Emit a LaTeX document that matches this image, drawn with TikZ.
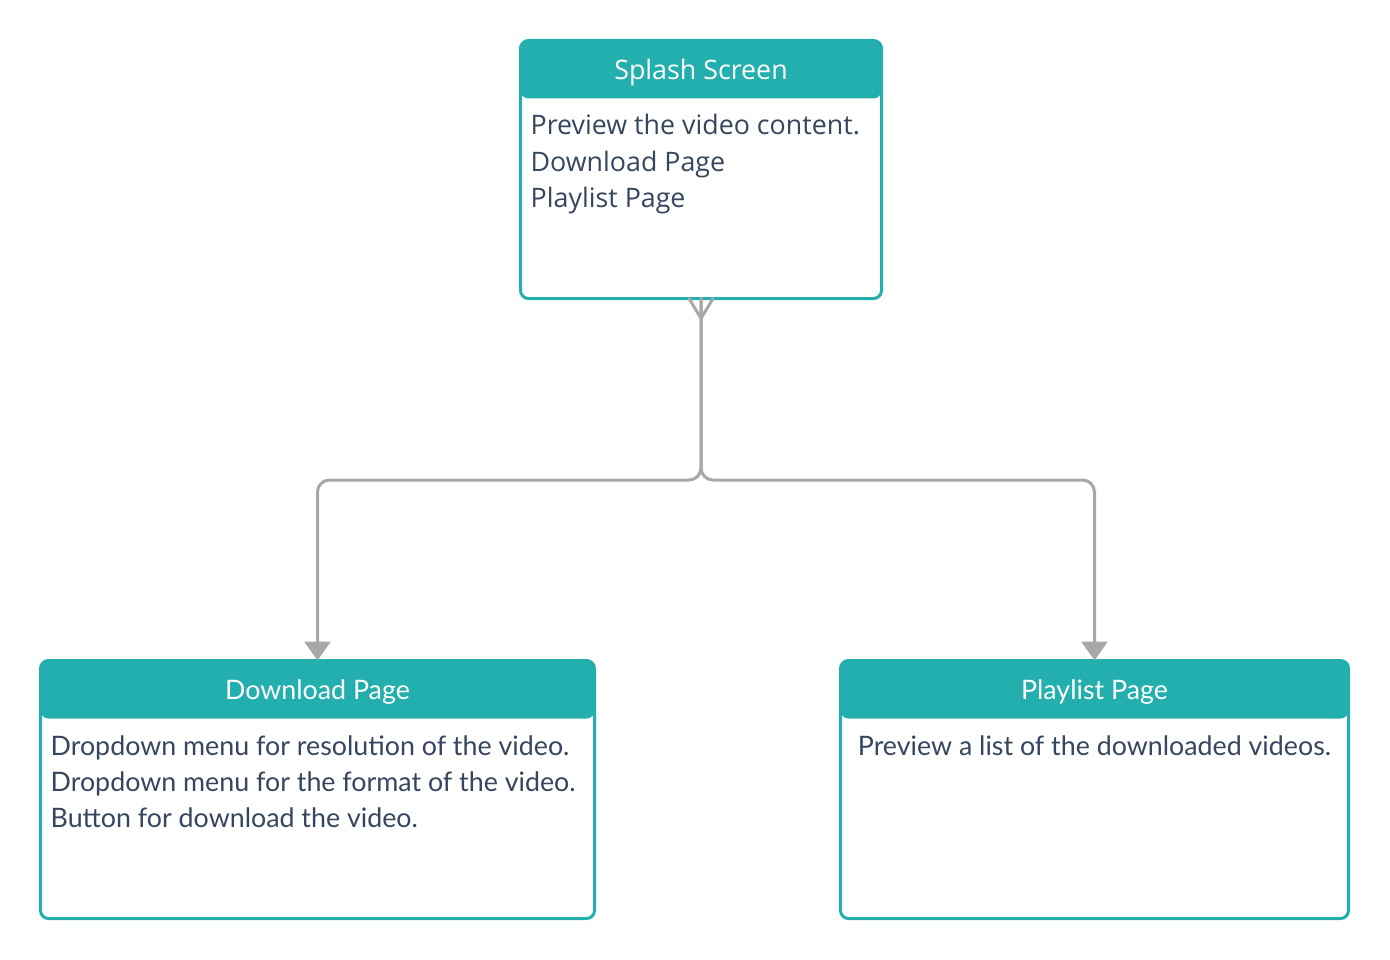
\documentclass[tikz,border=0pt]{standalone}
\usepackage{fontspec}
\newfontfamily\lato{Lato}
\newfontfamily\osans{Open Sans}
\usetikzlibrary{arrows.meta}
\definecolor{teal1}{HTML}{23AFAE}
\definecolor{ink}{HTML}{36465F}
\definecolor{wire}{HTML}{A8A8A8}
\newcommand{\fsz}{\fontsize{26.8}{30}\selectfont}
\begin{document}
\begin{tikzpicture}[x=1pt,y=-1pt,
  card/.style={draw=teal1, line width=3pt, rounded corners=8pt, fill=white,
    inner sep=0pt, outer sep=0pt, minimum height=258pt,
    path picture={\fill[teal1] (path picture bounding box.north west) rectangle ([yshift=-58pt]path picture bounding box.north east);}},
  title/.style={anchor=base, text=white, inner sep=0pt},
  body/.style={anchor=base west, text=ink, inner sep=0pt},
  wireline/.style={draw=wire, line width=3pt, line cap=round, line join=round},
  tip/.style={-{Triangle[width=26pt,length=19pt]}}
]
\useasboundingbox (0,0) rectangle (1390,960);
\node[card, minimum width=361pt] (splash) at (701,169.5) {};
\node[card, minimum width=554pt] (dl) at (317.5,789.5) {};
\node[card, minimum width=508pt] (pl) at (1094.5,789.5) {};

\node[title, font=\osans\fsz] (t1) at ([yshift=-39pt]splash.north) {Splash Screen};
\node[title, font=\lato\fsz] (t2) at ([yshift=-38.5pt]dl.north) {Download Page};
\node[title, font=\lato\fsz] (t3) at ([yshift=-38.5pt]pl.north) {Playlist Page};

\node[body, font=\osans\fsz] (s1) at ([xshift=10pt,yshift=-94.5pt]splash.north west) {Preview the video content.};
\node[body, font=\osans\fsz] (s2) at ([xshift=10pt,yshift=-131pt]splash.north west) {Download Page};
\node[body, font=\osans\fsz] (s3) at ([xshift=10pt,yshift=-167pt]splash.north west) {Playlist Page};

\node[body, font=\lato\fsz] (d1) at ([xshift=10pt,yshift=-94.5pt]dl.north west) {Dropdown menu for resolution of the video.};
\node[body, font=\lato\fsz] (d2) at ([xshift=10pt,yshift=-131pt]dl.north west) {Dropdown menu for the format of the video.};
\node[body, font=\lato\fsz] (d3) at ([xshift=10pt,yshift=-167pt]dl.north west) {Button for download the video.};

\node[body, anchor=base, font=\lato\fsz] (p1) at ([yshift=-94.5pt]pl.north) {Preview a list of the downloaded videos.};

\coordinate (split) at (splash.south |- 0,480);
\coordinate (cf) at ([yshift=-20pt]splash.south);
\draw[wireline, rounded corners=12pt, tip] (splash.south) -- (split) -| (dl.north);
\draw[wireline, rounded corners=12pt, tip] (splash.south) -- (split) -| (pl.north);
\draw[wireline] ([xshift=-12pt]splash.south) -- (cf) -- ([xshift=12pt]splash.south);
\end{tikzpicture}
\end{document}
